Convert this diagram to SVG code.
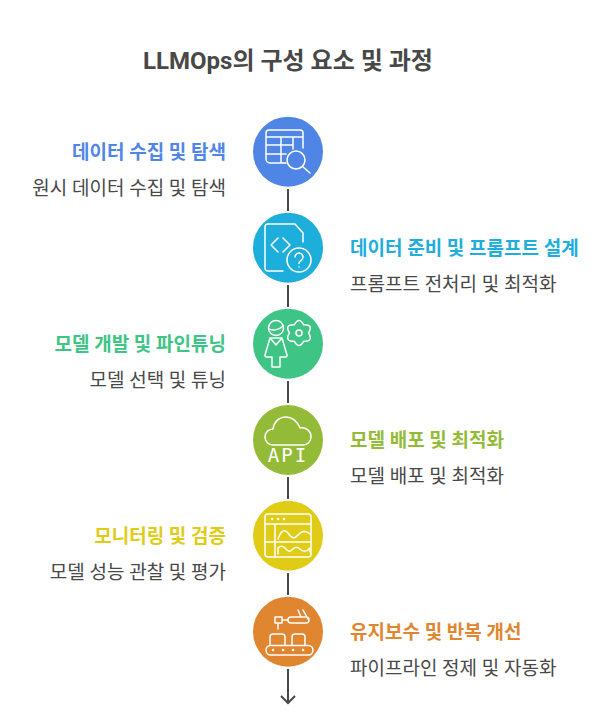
<svg xmlns="http://www.w3.org/2000/svg" width="612" height="713" viewBox="0 0 612 713">
<style>
text{font-family:Roboto,"Noto Sans CJK KR","Noto Sans",sans-serif}
.t{font-size:24px;font-weight:700;fill:#484848}
.h{font-size:19px;font-weight:700}
.d{font-size:19px;font-weight:400;fill:#484848}
.e{text-anchor:end}
.c{stroke:#484848;stroke-width:2;fill:none}
.i{fill:none;stroke:#fff;stroke-width:1.500;stroke-linecap:round;stroke-linejoin:round}
.p{fill:none;stroke:#fff;stroke-width:2.500;stroke-linecap:round}
</style>
<rect width="612" height="713" fill="#fff"/>
<text class="t" x="288" y="69" text-anchor="middle">LLMOps의 구성 요소 및 과정</text>
<g id="connectors">
<path class="c" d="M288 189V211M288 285V307M288 381V403M288 477V499M288 573V595M288 669V702M281 696L288 703L295 696"/>
</g>
<g id="n1">
<circle cx="288" cy="151.700" r="35" fill="#4f86e6"/>
<path class="i" d="M286 163H270a4 4 0 0 1-4-4V133a3 3 0 0 1 3-3H300a3 3 0 0 1 3 3V148M266 137H303M266 145H293M266 154H286M281 137V163M293 137V149"/>
<circle class="i" cx="296" cy="160" r="9"/><path class="i" d="M302.500 166.500L310 173"/>
<text class="h e" x="226" y="159" fill="#4f86e6">데이터 수집 및 탐색</text>
<text class="d e" x="226" y="195">원시 데이터 수집 및 탐색</text>
</g>
<g id="n2">
<circle cx="288" cy="247.700" r="35" fill="#1eaedb"/>
<path class="i" d="M283 271H268a3 3 0 0 1-3-3V227a3 3 0 0 1 3-3H295L303 233V242M278 238L271 245L278 252M283 238L290 245L283 252"/>
<circle class="i" cx="299" cy="260" r="12"/>
<path class="i" d="M295 257a4 4 0 1 1 6 3.500c-1.500 1-2 1.500-2 3M299 267V267.100"/>
<text class="h" x="350" y="255" fill="#1eaedb">데이터 준비 및 프롬프트 설계</text>
<text class="d" x="350" y="291">프롬프트 전처리 및 최적화</text>
</g>
<g id="n3">
<circle cx="288" cy="343.700" r="35" fill="#3ec585"/>
<circle class="i" cx="276" cy="328" r="7.500"/>
<path class="i" d="M269 329C273 331 279 330 283 326M270 338L265 355a1.500 1.500 0 0 0 1.500 2H272V367H280V357H285.500a1.500 1.500 0 0 0 1.500-2L282 338ZM270 338L276 345L282 338"/>
<path class="i" d="M294.250 324.800Q299 316 303.750 324.800Q313.700 324.500 308.500 333Q313.700 341.500 303.750 341.200Q299 350 294.250 341.200Q284.300 341.500 289.500 333Q284.300 324.500 294.250 324.800Z"/>
<circle class="i" cx="299" cy="333" r="3"/>
<text class="h e" x="226" y="351" fill="#3ec585">모델 개발 및 파인튜닝</text>
<text class="d e" x="226" y="387">모델 선택 및 튜닝</text>
</g>
<g id="n4">
<circle cx="288" cy="440" r="35" fill="#93bb37"/>
<path class="i" d="M273 445a8 8 0 0 1 0-16c1-7 6-12 13-12c6 0 11 4 14 11c6-1 11 3 11 9a8 8 0 0 1-8 8Z"/>
<text x="288" y="462" text-anchor="middle" font-size="19" letter-spacing="2" fill="#fff" style="font-family:'DejaVu Sans Mono',monospace">API</text>
<text class="h" x="350" y="447" fill="#93bb37">모델 배포 및 최적화</text>
<text class="d" x="350" y="483">모델 배포 및 최적화</text>
</g>
<g id="n5">
<circle cx="288" cy="535.700" r="35" fill="#e0cc16"/>
<rect class="i" x="265" y="514" width="46" height="43" rx="3"/>
<path class="i" d="M265 524H311M275 524V557M265 542H311M278 539c3-9 7-10 10-6c4 6 7 6 10 2c3-4 8-5 12-1M278 554V548c3-3 5-2 7 0c3 4 5 4 8 1c3-3 5-2 7 0c3 3 7 3 10-1V552"/>
<path class="p" d="M272 519h.1M278 519h.1M284 519h.1"/>
<text class="h e" x="226" y="543" fill="#e0cc16">모니터링 및 검증</text>
<text class="d e" x="226" y="579">모델 성능 관찰 및 평가</text>
</g>
<g id="n6">
<circle cx="288" cy="631.700" r="35" fill="#e08630"/>
<path class="i" d="M275 617H282V623H275ZM278 623V629M282 620H288M291 617H306a3 3 0 0 1 0 6H291a3 3 0 0 1 0-6ZM298 610L301 617M303 610L308 619"/>
<path class="i" d="M270 645V637a3 3 0 0 1 3-3H282a3 3 0 0 1 3 3V645M292 645V637a3 3 0 0 1 3-3H302a3 3 0 0 1 3 3V645"/>
<rect class="i" x="266" y="645.500" width="47" height="9.500" rx="4.700"/>
<path class="p" d="M273 650h.1M283 650h.1M293 650h.1M303 650h.1"/>
<text class="h" x="350" y="639" fill="#e08630">유지보수 및 반복 개선</text>
<text class="d" x="350" y="675">파이프라인 정제 및 자동화</text>
</g>
</svg>
